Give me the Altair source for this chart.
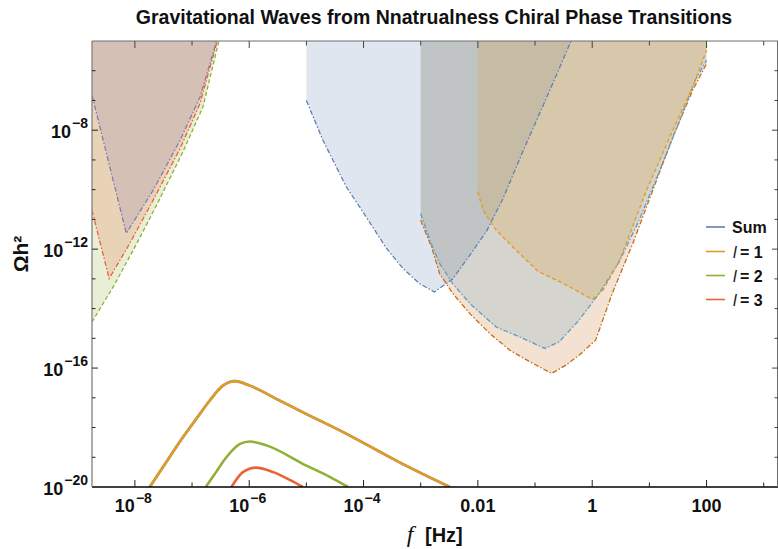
import altair as alt
import pandas as pd

# ---------------------------------------------------------------------------
# Plot geometry (pixels) and axis extents (log10 units)
# ---------------------------------------------------------------------------
W, H = 686, 446
F_LO_EXP, F_HI_EXP = -8.75, 3.25
O_LO_EXP, O_HI_EXP = -20.0, -5.0
F_LO, F_HI = 10 ** F_LO_EXP, 10 ** F_HI_EXP
O_LO, O_HI = 10 ** O_LO_EXP, 10 ** O_HI_EXP

FONT = "Liberation Sans"

BLUE, ORANGE, GREEN, RED = "#5E81B5", "#E19C24", "#8FB032", "#EB6235"
PURPLE, DARK_ORANGE, LIGHT_BLUE = "#8778B3", "#C56E1A", "#5D9EC7"

# ---------------------------------------------------------------------------
# Gravitational-wave spectra: log10(f / Hz) and log10(Omega h^2)
# ---------------------------------------------------------------------------
L1_LOGF = [-7.74, -7.45, -7.16, -6.90, -6.69, -6.46, -6.25, -5.99, -5.50, -5.12, -4.24, -3.37, -2.49]
L1_LOGO = [-20.0, -19.16, -18.33, -17.64, -17.09, -16.59, -16.44, -16.59, -17.06, -17.43, -18.27, -19.17, -20.0]

L2_LOGF = [-6.76, -6.58, -6.40, -6.16, -5.99, -5.70, -5.00, -4.60, -4.27]
L2_LOGO = [-20.0, -19.50, -19.00, -18.55, -18.47, -18.60, -19.28, -19.65, -20.0]

L3_LOGF = [-6.31, -6.11, -5.88, -5.58, -5.30, -5.06]
L3_LOGO = [-20.0, -19.50, -19.35, -19.50, -19.75, -20.0]

# the sum over l is dominated by l = 1
SUM_LOGF = L1_LOGF
SUM_LOGO = L1_LOGO

SERIES = ["Sum", "l = 1", "l = 2", "l = 3"]
SERIES_COLORS = [BLUE, ORANGE, GREEN, RED]

# ---------------------------------------------------------------------------
# Detector sensitivity curves (filled up to the top of the plot)
# ---------------------------------------------------------------------------
PTA_A_LOGF = [-8.75, -8.38, -8.03, -7.62, -7.16, -6.81, -6.53]
PTA_A_LOGO = [-14.45, -13.27, -12.04, -10.52, -8.73, -7.22, -5.0]

PTA_B_LOGF = [-8.75, -8.45, -8.09, -7.68, -7.21, -6.86, -6.56]
PTA_B_LOGO = [-10.69, -12.99, -11.81, -10.35, -8.62, -7.10, -5.0]

PTA_C_LOGF = [-8.75, -8.15, -7.68, -7.21, -6.86, -6.57]
PTA_C_LOGO = [-6.82, -11.47, -10.02, -8.34, -6.88, -5.0]

SPACE_A_LOGF = [-5.0, -4.71, -4.30, -4.01, -3.60, -3.31, -3.02, -2.76, -2.44, -2.14, -1.85, -1.56, -1.21, -0.74, -0.37]
SPACE_A_LOGO = [-7.0, -8.34, -9.91, -10.75, -11.97, -12.65, -13.16, -13.44, -13.0, -12.2, -11.4, -10.3, -8.7, -6.65, -5.0]

SPACE_B_LOGF = [-3.0, -2.81, -2.67, -2.44, -2.14, -1.79, -1.44, -1.09, -0.71, -0.46, -0.23, 0.06, 0.35, 0.71, 1.06, 1.41, 1.76, 2.0]
SPACE_B_LOGO = [-11.03, -11.93, -12.82, -13.49, -14.17, -14.84, -15.40, -15.79, -16.18, -15.90, -15.57, -15.06, -13.49, -11.81, -10.02, -8.23, -6.65, -5.76]

SPACE_C_LOGF = [-3.0, -2.84, -2.67, -2.44, -2.14, -1.68, -1.27, -0.83, -0.58, -0.23, 0.12, 0.47, 0.82, 1.17, 1.52, 1.80, 2.0]
SPACE_C_LOGO = [-10.80, -11.70, -12.48, -13.16, -13.83, -14.62, -14.95, -15.34, -15.12, -14.39, -13.49, -12.44, -11.03, -9.41, -7.73, -6.32, -5.65]

SPACE_D_LOGF = [-2.0, -1.91, -1.68, -1.33, -0.95, -0.45, 0.0, 0.19, 0.48, 0.95, 1.41, 1.76, 2.0]
SPACE_D_LOGO = [-10.08, -10.69, -11.36, -12.04, -12.74, -13.21, -13.69, -13.38, -12.37, -10.02, -8.0, -6.54, -5.31]

DASH_DOT = [5, 2, 1.5, 2]
DASHED = [4, 2.5]

# (log f, log Omega, colour, dash) in drawing order
REGIONS = [
    (PTA_A_LOGF, PTA_A_LOGO, GREEN, DASHED),
    (PTA_B_LOGF, PTA_B_LOGO, RED, DASH_DOT),
    (PTA_C_LOGF, PTA_C_LOGO, PURPLE, DASH_DOT),
    (SPACE_A_LOGF, SPACE_A_LOGO, BLUE, DASH_DOT),
    (SPACE_B_LOGF, SPACE_B_LOGO, DARK_ORANGE, DASH_DOT),
    (SPACE_C_LOGF, SPACE_C_LOGO, LIGHT_BLUE, DASH_DOT),
    (SPACE_D_LOGF, SPACE_D_LOGO, ORANGE, DASHED),
]

# ---------------------------------------------------------------------------
# Ticks and tick labels
# ---------------------------------------------------------------------------
X_TICK_EXPS = list(range(-8, 4))
X_LABELED_EXPS = [-8, -6, -4, -2, 0, 2]
X_POWER_LABELS = [-8, -6, -4]
X_PLAIN_LABELS = [(-2, "0.01"), (0, "1"), (2, "100")]

Y_TICK_EXPS = list(range(-19, -5))
Y_LABELED_EXPS = [-8, -12, -16, -20]

LABEL_SIZE = 18
EXP_SIZE = 14

xs = alt.Scale(type="log", domain=[F_LO, F_HI], nice=False)
ys = alt.Scale(type="log", domain=[O_LO, O_HI], nice=False)


def xy_frame(logf, logo):
    return pd.DataFrame({
        "f": [10.0 ** v for v in logf],
        "omega": [10.0 ** v for v in logo],
        "top": O_HI,
    })


def X(field="f"):
    return alt.X(f"{field}:Q", scale=xs, axis=None)


def Y(field="omega"):
    return alt.Y(f"{field}:Q", scale=ys, axis=None)


one_row = pd.DataFrame({"k": [0]})
layers = []

# filled sensitivity regions
for logf, logo, color, dash in REGIONS:
    layers.append(
        alt.Chart(xy_frame(logf, logo))
        .mark_area(color=color, opacity=0.2, clip=True)
        .encode(x=X(), y=Y(), y2="top:Q")
    )

# dashed outlines of the regions
for logf, logo, color, dash in REGIONS:
    layers.append(
        alt.Chart(xy_frame(logf, logo))
        .mark_line(color=color, strokeWidth=1.3, strokeDash=dash, clip=True)
        .encode(x=X(), y=Y())
    )

# spectra
for (logf, logo), color in zip(
    [(SUM_LOGF, SUM_LOGO), (L1_LOGF, L1_LOGO), (L2_LOGF, L2_LOGO), (L3_LOGF, L3_LOGO)],
    SERIES_COLORS,
):
    layers.append(
        alt.Chart(xy_frame(logf, logo))
        .mark_line(color=color, strokeWidth=2.6, interpolate="monotone", clip=True)
        .encode(x=X(), y=Y())
    )

# frame
frame = alt.Chart(one_row)
layers += [
    frame.mark_rule(color="#000000", strokeWidth=1.3).encode(x=alt.value(0), x2=alt.value(W), y=alt.value(H)),
    frame.mark_rule(color="#8a8a8a", strokeWidth=1.4).encode(x=alt.value(0), y=alt.value(0), y2=alt.value(H)),
    frame.mark_rule(color="#6e6e6e", strokeWidth=1).encode(x=alt.value(0), x2=alt.value(W), y=alt.value(0)),
    frame.mark_rule(color="#6e6e6e", strokeWidth=1).encode(x=alt.value(W - 0.5), y=alt.value(0), y2=alt.value(H)),
]

# inward ticks on all four sides
xt = pd.DataFrame({"f": [10.0 ** e for e in X_TICK_EXPS],
                   "major": [e in X_LABELED_EXPS for e in X_TICK_EXPS]})
yt = pd.DataFrame({"omega": [10.0 ** e for e in Y_TICK_EXPS],
                   "major": [e in Y_LABELED_EXPS for e in Y_TICK_EXPS]})
for is_major, xlen, ylen in [(True, 7, 6), (False, 4.5, 3.5)]:
    xsel = xt[xt["major"] == is_major]
    ysel = yt[yt["major"] == is_major]
    layers += [
        alt.Chart(xsel).mark_rule(color="#222222", strokeWidth=1).encode(
            x=X(), y=alt.value(H), y2=alt.value(H - xlen)),
        alt.Chart(xsel).mark_rule(color="#444444", strokeWidth=1).encode(
            x=X(), y=alt.value(0), y2=alt.value(xlen)),
        alt.Chart(ysel).mark_rule(color="#222222", strokeWidth=1).encode(
            y=Y(), x=alt.value(0), x2=alt.value(ylen)),
        alt.Chart(ysel).mark_rule(color="#444444", strokeWidth=1).encode(
            y=Y(), x=alt.value(W), x2=alt.value(W - ylen)),
    ]

# x tick labels
text_style = dict(font=FONT, fontWeight="bold", color="#111111", baseline="alphabetic")
for e in X_POWER_LABELS:
    d = alt.Chart(pd.DataFrame({"f": [10.0 ** e]})).encode(x=X())
    layers.append(d.mark_text(text="10", align="right", fontSize=LABEL_SIZE, **text_style)
                  .encode(y=alt.value(H + 25)))
    layers.append(d.mark_text(text="\u2212" + str(-e), align="left", dx=1, fontSize=EXP_SIZE, **text_style)
                  .encode(y=alt.value(H + 16)))
for e, txt in X_PLAIN_LABELS:
    layers.append(
        alt.Chart(pd.DataFrame({"f": [10.0 ** e]}))
        .mark_text(text=txt, align="center", fontSize=LABEL_SIZE, **text_style)
        .encode(x=X(), y=alt.value(H + 25))
    )

# y tick labels
for e in Y_LABELED_EXPS:
    exp_txt = "\u2212" + str(-int(e))
    exp_w = EXP_SIZE * (0.584 + 0.556 * (len(exp_txt) - 1))
    d = alt.Chart(pd.DataFrame({"omega": [10.0 ** e]})).encode(y=Y())
    layers.append(d.mark_text(text=exp_txt, align="right", dy=-2, fontSize=EXP_SIZE, **text_style)
                  .encode(x=alt.value(-4)))
    layers.append(d.mark_text(text="10", align="right", dy=8, fontSize=LABEL_SIZE, **text_style)
                  .encode(x=alt.value(-5 - exp_w)))

# axis titles and chart title
layers += [
    frame.mark_text(text="Gravitational Waves from Nnatrualness Chiral Phase Transitions",
                    align="center", fontSize=19.5, **text_style)
    .encode(x=alt.value(W / 2 - 1), y=alt.value(-17)),
    frame.mark_text(text="f", align="center", font="Liberation Serif", fontStyle="italic",
                    fontSize=24, baseline="alphabetic", color="#111111")
    .encode(x=alt.value(318), y=alt.value(H + 55)),
    frame.mark_text(text="[Hz]", align="left", fontSize=20, **text_style)
    .encode(x=alt.value(333), y=alt.value(H + 55)),
    frame.mark_text(text="\u03a9h\u00b2", align="center", angle=270, font=FONT, fontSize=21,
                    fontWeight="bold", baseline="middle", color="#111111")
    .encode(x=alt.value(-70), y=alt.value(213)),
]

# legend
LEGEND_ROW_Y = [186, 210.5, 234.5, 258.5]
for name, color, ry in zip(SERIES, SERIES_COLORS, LEGEND_ROW_Y):
    layers.append(frame.mark_rule(color=color, strokeWidth=1.6).encode(
        x=alt.value(614), x2=alt.value(633), y=alt.value(ry)))
    if name.startswith("l"):
        layers.append(frame.mark_text(text="l", align="left", fontSize=16, font=FONT,
                                      fontStyle="italic", baseline="alphabetic", color="#111111")
                      .encode(x=alt.value(641), y=alt.value(ry + 6)))
        layers.append(frame.mark_text(text=name[1:].strip(), align="left", fontSize=16, **text_style)
                      .encode(x=alt.value(648), y=alt.value(ry + 6)))
    else:
        layers.append(frame.mark_text(text=name, align="left", fontSize=16, **text_style)
                      .encode(x=alt.value(640), y=alt.value(ry + 6)))

chart = (
    alt.layer(*layers)
    .properties(
        width=W,
        height=H,
        autosize=alt.AutoSizeParams(type="none"),
        padding={"left": 92, "top": 41, "right": 0, "bottom": 62},
        background="white",
    )
    .configure_view(stroke=None)
)

chart.save("out.html", embed_options={"renderer": "svg", "actions": False})
